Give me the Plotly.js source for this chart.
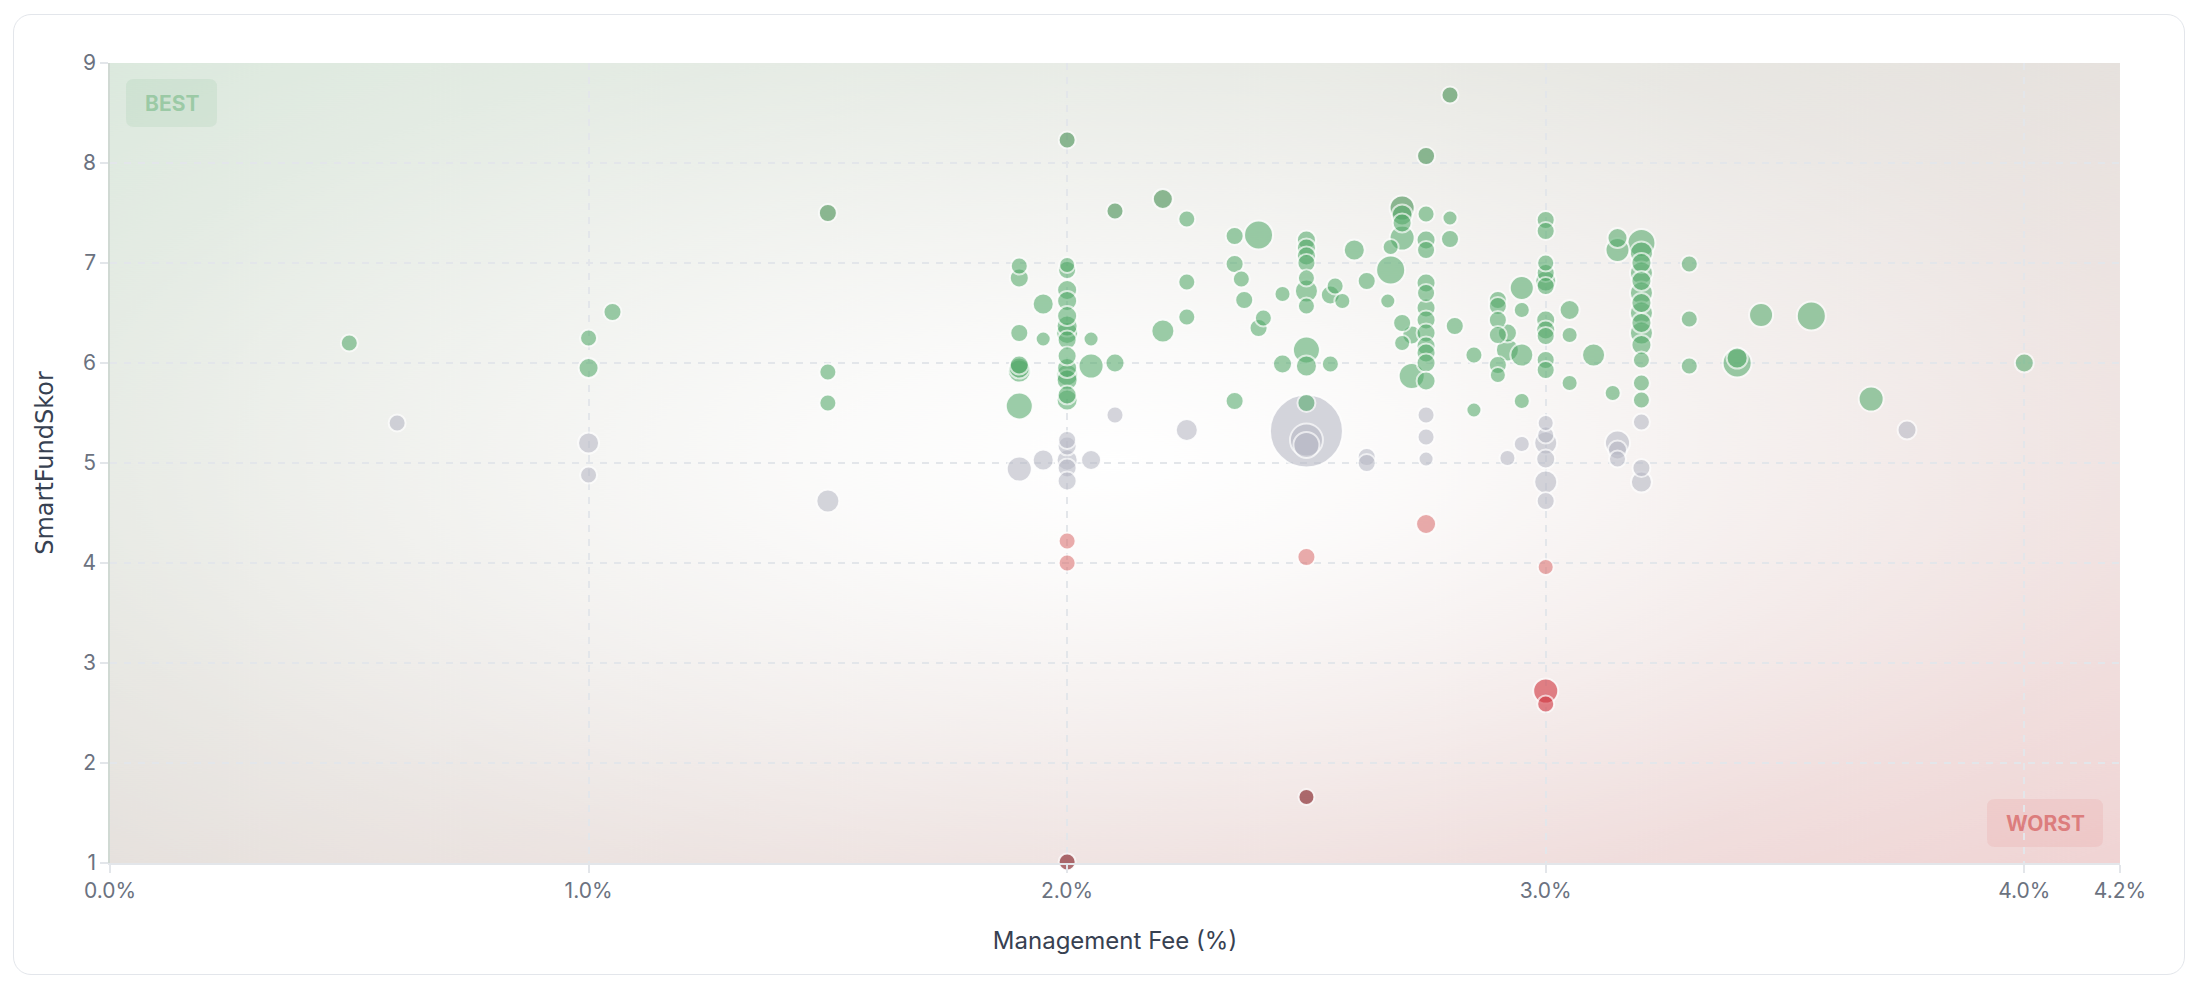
<!DOCTYPE html>
<html>
<head>
<meta charset="utf-8">
<script src="https://cdn.plot.ly/plotly-3.0.1.min.js"></script>
<style>
  html, body { margin: 0; padding: 0; background: #ffffff; }
  #card {
    position: absolute; left: 13px; top: 14px; width: 2172px; height: 961px;
    box-sizing: border-box; border: 1.5px solid #e3e6eb; border-radius: 18px;
    background: #ffffff;
  }
  #chart { position: absolute; left: 0; top: 0; width: 2198px; height: 988px; }
</style>
</head>
<body>
<div id="card"></div>
<div id="chart"></div>
<script>
// fee (%) / SmartFundSkor / bubble diameter
const fee = [
  0.50, 0.60, 1.00, 1.00, 1.05, 1.00, 1.00, 1.50, 1.50, 1.50, 1.50,
  1.90, 1.90, 1.90, 1.90, 1.90, 1.90, 1.90, 1.90, 1.95, 1.95, 1.95,
  2.00, 2.00, 2.00, 2.00, 2.00, 2.00, 2.00, 2.00, 2.00, 2.00, 2.00, 2.00, 2.00, 2.00, 2.00,
  2.00, 2.00, 2.00, 2.00, 2.00, 2.00, 2.00, 2.00,
  2.05, 2.05, 2.05, 2.10, 2.10, 2.10, 2.20, 2.20, 2.25, 2.25, 2.25, 2.25,
  2.35, 2.40, 2.35, 2.364, 2.37, 2.41, 2.40, 2.35, 2.45, 2.45,
  2.50, 2.50, 2.50, 2.50, 2.50, 2.50, 2.50, 2.50, 2.50, 2.50, 2.50, 2.50, 2.50, 2.50, 2.50,
  2.55, 2.56, 2.55, 2.575, 2.60, 2.626, 2.626, 2.626,
  2.676, 2.676, 2.67, 2.70, 2.70, 2.70, 2.70, 2.70, 2.70, 2.72, 2.72,
  2.75, 2.75, 2.75, 2.75, 2.75, 2.75, 2.75, 2.75, 2.75, 2.75, 2.75, 2.75, 2.75, 2.75, 2.75, 2.75, 2.75,
  2.80, 2.80, 2.80, 2.81, 2.85, 2.85,
  2.90, 2.90, 2.90, 2.90, 2.90, 2.90, 2.92, 2.92, 2.92,
  2.95, 2.95, 2.95, 2.95, 2.95,
  3.00, 3.00, 3.00, 3.00, 3.00, 3.00, 3.00, 3.00, 3.00, 3.00, 3.00,
  3.00, 3.00, 3.00, 3.00, 3.00, 3.00, 3.00, 3.00, 3.00,
  3.05, 3.05, 3.05, 3.10, 3.15, 3.15, 3.14, 3.15, 3.15, 3.15,
  3.20, 3.20, 3.20, 3.20, 3.20, 3.20, 3.20, 3.20, 3.20, 3.20, 3.20, 3.20, 3.20, 3.20,
  3.20, 3.20, 3.20, 3.30, 3.30, 3.30,
  3.40, 3.40, 3.45, 3.555, 3.68, 3.755, 4.00
];
const score = [
  6.20, 5.40, 6.25, 5.95, 6.51, 5.20, 4.88, 7.50, 5.91, 5.60, 4.62,
  6.97, 6.85, 6.30, 5.98, 5.95, 5.92, 5.57, 4.94, 6.59, 6.24, 5.03,
  8.23, 6.98, 6.93, 6.73, 6.62, 6.47, 6.37, 6.23, 6.07, 5.95, 5.83, 5.68, 5.63, 6.30, 5.88,
  5.23, 5.17, 5.03, 4.95, 4.82, 4.22, 4.00, 1.01,
  6.24, 5.97, 5.03, 7.52, 6.00, 5.48, 7.64, 6.32, 7.44, 6.81, 6.46, 5.33,
  7.27, 7.28, 6.99, 6.84, 6.63, 6.45, 6.35, 5.62, 6.69, 5.99,
  7.23, 7.15, 7.07, 7.00, 6.85, 6.72, 6.57, 6.13, 5.97, 5.60, 5.32, 5.23, 5.18, 4.06, 1.66,
  5.99, 6.77, 6.68, 6.62, 7.13, 6.82, 5.06, 5.00,
  7.16, 6.93, 6.62, 7.55, 7.48, 7.40, 7.25, 6.40, 6.20, 6.28, 5.87,
  8.07, 7.49, 7.23, 7.13, 6.80, 6.70, 6.55, 6.43, 6.30, 6.17, 6.10, 6.00, 5.82, 5.48, 5.26, 5.04, 4.39,
  8.68, 7.45, 7.24, 6.37, 6.08, 5.53,
  6.63, 6.57, 6.43, 6.28, 5.98, 5.88, 6.30, 6.13, 5.05,
  6.75, 6.53, 6.08, 5.62, 5.19,
  7.43, 7.32, 7.00, 6.90, 6.82, 6.77, 6.43, 6.33, 6.27, 6.03, 5.93,
  5.40, 5.28, 5.20, 5.04, 4.81, 4.62, 3.96, 2.72, 2.59,
  6.53, 6.28, 5.80, 6.08, 7.25, 7.13, 5.70, 5.20, 5.13, 5.04,
  7.20, 7.10, 7.00, 6.90, 6.82, 6.70, 6.60, 6.50, 6.40, 6.30, 6.18, 6.03, 5.80, 5.63,
  5.41, 4.95, 4.81, 6.99, 6.44, 5.97,
  6.00, 6.05, 6.48, 6.47, 5.64, 5.33, 6.00
];
const bubble = [
  16, 16, 16, 19, 17, 20, 16, 17, 16, 16, 22,
  16, 18, 17, 18, 20, 22, 26, 24, 20, 14, 20,
  16, 15, 17, 19, 19, 19, 20, 18, 18, 19, 20, 18, 20, 21, 21,
  17, 18, 20, 18, 18, 16, 16, 16,
  14, 24, 19, 16, 18, 16, 19, 22, 16, 16, 16, 21,
  17, 28, 17, 16, 17, 16, 17, 17, 15, 18,
  18, 18, 18, 17, 16, 22, 16, 26, 20, 17, 72, 32, 25, 17, 15,
  16, 16, 18, 15, 20, 17, 17, 17,
  15, 28, 14, 24, 20, 18, 24, 17, 15, 18, 25,
  17, 16, 18, 17, 18, 17, 18, 18, 18, 18, 18, 18, 18, 16, 16, 14, 19,
  16, 14, 17, 17, 16, 14,
  17, 17, 17, 17, 17, 15, 18, 22, 15,
  23, 15, 22, 15, 15,
  17, 17, 16, 17, 20, 17, 18, 18, 17, 17, 17,
  15, 16, 22, 18, 22, 17, 15, 24, 16,
  19, 15, 15, 22, 19, 23, 15, 24, 18, 16,
  27, 22, 19, 22, 19, 22, 19, 22, 19, 22, 19, 16, 16, 16,
  16, 17, 20, 16, 16, 16,
  28, 20, 23, 28, 24, 18, 18
];

const tickVals = [0, 1, 2, 3, 4, 4.2];
const tickText = ['0.0%', '1.0%', '2.0%', '3.0%', '4.0%', '4.2%'];

function scoreColor(s) {
  if (s >= 7.5) return 'rgba(74,146,86,0.88)';
  if (s >= 5.5) return 'rgba(84,170,106,0.82)';
  if (s >= 4.5) return 'rgba(184,186,198,0.85)';
  if (s >= 3.5) return 'rgba(218,112,112,0.82)';
  if (s >= 2) return 'rgba(208,52,62,0.85)';
  return 'rgba(130,30,36,0.9)';
}

// big bubbles first so small ones sit on top
const order = fee.map((_, i) => i).sort((a, b) => bubble[b] - bubble[a]);

const W = 2010, H = 800; // plot area in px

// corner-to-corner wash (green top-left, red bottom-right) with a white centre,
// drawn on a square and stretched over the plot area
function backdrop() {
  const S = 800;
  const c = document.createElement('canvas');
  c.width = S; c.height = S;
  const g = c.getContext('2d');
  const lin = g.createLinearGradient(0, 0, S, S);
  lin.addColorStop(0, 'rgb(219,233,221)');
  lin.addColorStop(0.5, 'rgb(230,225,221)');
  lin.addColorStop(1, 'rgb(240,211,211)');
  g.fillStyle = lin;
  g.fillRect(0, 0, S, S);
  const rad = g.createRadialGradient(S / 2, S / 2, 0, S / 2, S / 2, S * 0.72);
  rad.addColorStop(0, 'rgba(255,255,255,1)');
  rad.addColorStop(0.2, 'rgba(255,255,255,0.85)');
  rad.addColorStop(0.5, 'rgba(255,255,255,0.5)');
  rad.addColorStop(0.75, 'rgba(255,255,255,0.2)');
  rad.addColorStop(1, 'rgba(255,255,255,0)');
  g.fillStyle = rad;
  g.fillRect(0, 0, S, S);
  return c.toDataURL('image/png');
}

function roundRect(x0, y0, x1, y1, r) {
  const X = p => (p / W).toFixed(5), Y = p => (1 - p / H).toFixed(5);
  return 'M' + X(x0 + r) + ',' + Y(y0) + ' L' + X(x1 - r) + ',' + Y(y0) +
    ' Q' + X(x1) + ',' + Y(y0) + ' ' + X(x1) + ',' + Y(y0 + r) +
    ' L' + X(x1) + ',' + Y(y1 - r) +
    ' Q' + X(x1) + ',' + Y(y1) + ' ' + X(x1 - r) + ',' + Y(y1) +
    ' L' + X(x0 + r) + ',' + Y(y1) +
    ' Q' + X(x0) + ',' + Y(y1) + ' ' + X(x0) + ',' + Y(y1 - r) +
    ' L' + X(x0) + ',' + Y(y0 + r) +
    ' Q' + X(x0) + ',' + Y(y0) + ' ' + X(x0 + r) + ',' + Y(y0) + ' Z';
}

const trace = {
  x: order.map(i => fee[i]),
  y: order.map(i => score[i]),
  type: 'scatter',
  mode: 'markers',
  cliponaxis: false,
  hoverinfo: 'x+y',
  marker: {
    size: order.map(i => bubble[i] + 1),
    color: order.map(i => scoreColor(score[i])),
    line: {color: 'rgba(255,255,255,0.92)', width: 2}
  }
};

const gridStyle = {gridcolor: '#e3e6ea', griddash: '7px,7px', gridwidth: 1.5};

const layout = {
  width: 2198,
  height: 988,
  margin: {l: 110, r: 78, t: 63, b: 125},
  paper_bgcolor: 'rgba(0,0,0,0)',
  plot_bgcolor: 'rgba(0,0,0,0)',
  font: {family: 'Inter, "Noto Sans", sans-serif', color: '#6b7280', size: 21},
  showlegend: false,
  xaxis: Object.assign({
    range: [0, 4.2],
    tickvals: tickVals,
    ticktext: tickText,
    ticks: 'outside', ticklen: 8, tickcolor: '#e3e6ea', tickwidth: 1.5,
    showline: true, linecolor: '#e3e6ea', linewidth: 1.5,
    zeroline: false,
    tickfont: {size: 21, color: '#6b7280'},
    title: {text: 'Management Fee (%)', font: {size: 24, color: '#374151'}, standoff: 30}
  }, gridStyle),
  yaxis: Object.assign({
    range: [1, 9],
    dtick: 1,
    ticks: 'outside', ticklen: 8, tickcolor: '#e3e6ea', tickwidth: 1.5,
    showline: true, linecolor: 'rgba(170,185,175,0.55)', linewidth: 1.5,
    zeroline: false,
    tickfont: {size: 21, color: '#6b7280'},
    title: {text: 'SmartFundSkor', font: {family: '"DejaVu Sans", sans-serif', size: 24, color: '#374151'}, standoff: 22}
  }, gridStyle),
  images: [{
    source: backdrop(),
    xref: 'paper', yref: 'paper', x: 0, y: 1, sizex: 1, sizey: 1,
    xanchor: 'left', yanchor: 'top', sizing: 'stretch', layer: 'below'
  }],
  shapes: [
    {type: 'path', xref: 'paper', yref: 'paper', path: roundRect(16, 16, 107, 64, 8),
     fillcolor: 'rgba(90,170,105,0.1)', line: {width: 0}, layer: 'below'},
    {type: 'path', xref: 'paper', yref: 'paper', path: roundRect(1877, 736, 1993, 784, 8),
     fillcolor: 'rgba(225,90,90,0.1)', line: {width: 0}, layer: 'below'}
  ],
  annotations: [
    {xref: 'paper', yref: 'paper', x: 61.5 / W, y: 1 - 40 / H, text: '<b>BEST</b>',
     showarrow: false, xanchor: 'center', yanchor: 'middle',
     font: {size: 21, color: 'rgba(120,185,135,0.6)'}},
    {xref: 'paper', yref: 'paper', x: 1935 / W, y: 1 - 760 / H, text: '<b>WORST</b>',
     showarrow: false, xanchor: 'center', yanchor: 'middle',
     font: {size: 21, color: 'rgba(215,100,100,0.75)'}}
  ]
};

Plotly.newPlot('chart', [trace], layout, {displayModeBar: false, responsive: false});
</script>
</body>
</html>
